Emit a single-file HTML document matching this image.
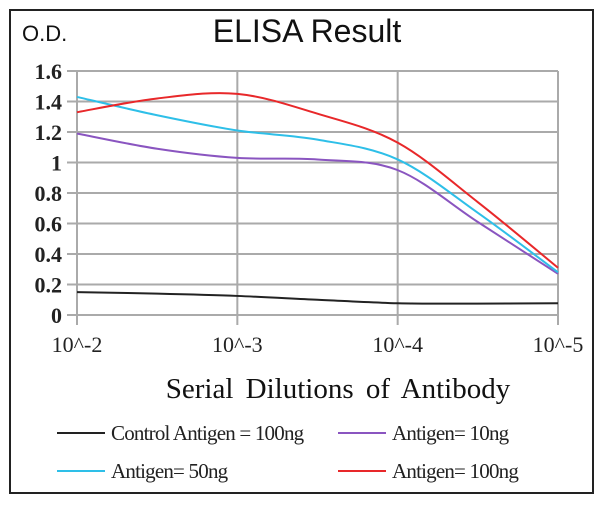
<!DOCTYPE html>
<html><head><meta charset="utf-8"><style>
body{margin:0;background:#fff;}
svg{display:block;}
</style></head><body>
<svg width="600" height="505" viewBox="0 0 600 505">
<rect x="10" y="10" width="583" height="483" fill="#fff" stroke="#222" stroke-width="2"/>
<text x="22" y="41" font-family="Liberation Sans, sans-serif" font-size="22" fill="#111">O.D.</text>
<text x="307" y="42" text-anchor="middle" font-family="Liberation Sans, sans-serif" font-size="32" fill="#111">ELISA Result</text>
<g id="grid"></g>
<g id="series"></g>
<text x="338" y="398" text-anchor="middle" font-family="Liberation Serif, serif" font-size="29" word-spacing="5" fill="#111">Serial Dilutions  of Antibody</text>
<g id="legend"></g>
</svg>
<script>
const xCats = ["10^-2","10^-3","10^-4","10^-5"];
const xLogs = [2,2.5,3,3.5,4,4.5,5];
const yTicks = [0,0.2,0.4,0.6,0.8,1,1.2,1.4,1.6];
const yTickLabels = ["0","0.2","0.4","0.6","0.8","1","1.2","1.4","1.6"];
const seriesNames = ["Control Antigen = 100ng","Antigen= 10ng","Antigen= 50ng","Antigen= 100ng"];
const seriesColors = ["#222222","#8a55c0","#2ebfe8","#e8282a"];
const controlVals = [0.15,0.14,0.125,0.10,0.077,0.075,0.077];
const ag10Vals = [1.19,1.09,1.03,1.02,0.95,0.61,0.27];
const ag50Vals = [1.43,1.31,1.21,1.15,1.02,0.67,0.28];
const ag100Vals = [1.33,1.42,1.45,1.32,1.13,0.74,0.31];

const NS="http://www.w3.org/2000/svg";
const X0=77,X1=558,Y0=315,Y1=71;
const xs=v=>X0+(v-2)/3*(X1-X0);
const ys=v=>Y0-v/1.6*(Y0-Y1);
function mk(t,a,p){const e=document.createElementNS(NS,t);for(const k in a)e.setAttribute(k,a[k]);p.appendChild(e);return e;}
const grid=document.getElementById('grid');
yTicks.forEach((v,i)=>{
  const l=mk('line',{x1:X0-10,x2:X1,y1:ys(v),y2:ys(v),stroke:'#aaa','stroke-width':2},grid);
  
  
  const t=mk('text',{x:62,y:ys(v)+8,'text-anchor':'end','font-family':'Liberation Serif, serif','font-size':22,'font-weight':'bold',fill:'#222'},grid);
  t.textContent=yTickLabels[i];
  
  
});
xCats.forEach((c,i)=>{
  const x=xs(2+i);
  const l=mk('line',{x1:x,x2:x,y1:Y1,y2:Y0+10,stroke:'#aaa','stroke-width':2},grid);
  
  
  const t=mk('text',{x:x,y:352,'text-anchor':'middle','font-family':'Liberation Serif, serif','font-size':22,fill:'#222'},grid);
  t.textContent=c;
  
  
});
function path(vals){
  const p=vals.map((v,i)=>[xs(xLogs[i]),ys(v)]);
  let d='M'+p[0][0]+','+p[0][1];
  for(let i=0;i<p.length-1;i++){
    const a=p[i-1]||p[i],b=p[i],c=p[i+1],e=p[i+2]||p[i+1];
    const c1=[b[0]+(c[0]-a[0])/6,b[1]+(c[1]-a[1])/6],c2=[c[0]-(e[0]-b[0])/6,c[1]-(e[1]-b[1])/6];
    d+=' C'+c1+' '+c2+' '+c;
  }
  return d;
}
const sg=document.getElementById('series');
[controlVals,ag10Vals,ag50Vals,ag100Vals].forEach((vals,i)=>{
  const p=mk('path',{d:path(vals),fill:'none',stroke:seriesColors[i],'stroke-width':2},sg);
  
  
});
const lg=document.getElementById('legend');
const lpos=[[57,439],[338,439],[57,477],[338,477]];
seriesNames.forEach((n,i)=>{
  const [x,y]=lpos[i];
  const l=mk('line',{x1:x,x2:x+48,y1:y-6,y2:y-6,stroke:seriesColors[i],'stroke-width':2},lg);
  
  
  const t=mk('text',{x:x+54,y:y+1,'font-family':'Liberation Serif, serif','font-size':21,'letter-spacing':'-0.8',fill:'#222'},lg);
  t.textContent=n;
  
  
});
</script>
</body></html>
